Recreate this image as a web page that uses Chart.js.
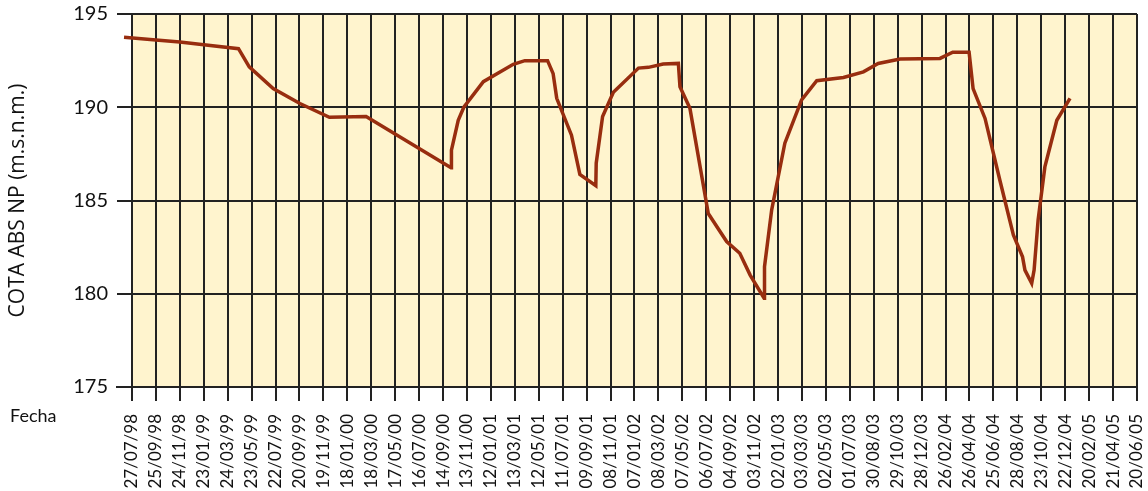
<!DOCTYPE html>
<html>
<head>
<meta charset="utf-8">
<script src="https://cdn.jsdelivr.net/npm/chart.js@4.4.1/dist/chart.umd.min.js"></script>
<style>
  html, body { margin:0; padding:0; background:#fff; }
  #wrap { width:1148px; height:491px; }
</style>
</head>
<body>
<div id="wrap"><canvas id="grafico"></canvas></div>
<script>
// etiquetas del eje X (cada 60 dias)
const tickLabels = [
  "27/07/98","25/09/98","24/11/98","23/01/99","24/03/99","23/05/99","22/07/99","20/09/99",
  "19/11/99","18/01/00","18/03/00","17/05/00","16/07/00","14/09/00","13/11/00","12/01/01",
  "13/03/01","12/05/01","11/07/01","09/09/01","08/11/01","07/01/02","08/03/02","07/05/02",
  "06/07/02","04/09/02","03/11/02","02/01/03","03/03/03","02/05/03","01/07/03","30/08/03",
  "29/10/03","28/12/03","26/02/04","26/04/04","25/06/04","28/08/04","23/10/04","22/12/04",
  "20/02/05","21/04/05","20/06/05"
];

// medidas
const fechas = [
  "07/07/98","25/09/98","24/11/98","23/01/99","20/04/99","17/05/99","16/07/99","21/09/99",
  "04/12/99","05/03/00","04/10/00","05/10/00","22/10/00","05/11/00","24/12/00","09/03/01",
  "07/04/01","03/06/01","17/06/01","26/06/01","02/08/01","23/08/01","02/10/01","03/10/01",
  "19/10/01","15/11/01","17/01/02","11/02/02","20/03/02","27/04/02","01/05/02","26/05/02",
  "11/07/02","26/08/02","28/09/02","24/10/02","28/11/02","29/11/02","17/12/02","19/01/03",
  "02/03/03","09/04/03","15/06/03","04/08/03","10/09/03","04/11/03","12/02/04","15/03/04",
  "25/04/04","05/05/04","04/06/04","11/07/04","14/08/04","06/09/04","12/09/04","29/09/04",
  "05/10/04","15/10/04","01/11/04","01/12/04","03/01/05"
];
const cotas = [
  193.75,193.6,193.5,193.35,193.14,192.17,191.0,190.2,
  189.46,189.5,186.75,187.7,189.3,190.0,191.37,192.3,
  192.5,192.5,191.8,190.48,188.5,186.4,185.8,187.0,
  189.5,190.8,192.1,192.14,192.32,192.35,191.1,189.94,
  184.3,182.8,182.17,181.0,179.76,181.45,184.5,188.07,
  190.4,191.42,191.6,191.9,192.35,192.59,192.62,192.95,
  192.95,191.0,189.4,186.1,183.15,181.98,181.27,180.56,
  181.27,183.95,186.8,189.3,190.48
];

const inicio = Date.UTC(1998, 6, 27);
function dias(f) {
  const [d, m, a] = f.split("/").map(Number);
  const anio = a < 50 ? 2000 + a : 1900 + a;
  return (Date.UTC(anio, m - 1, d) - inicio) / 86400000;
}
const puntos = fechas.map((f, i) => ({ x: dias(f), y: cotas[i] }));

const fondo = {
  id: "fondo",
  beforeDraw(chart) {
    const { ctx, chartArea, scales } = chart;
    const x0 = scales.x.getPixelForValue(0);
    ctx.save();
    ctx.fillStyle = "#FFF4CE";
    ctx.fillRect(x0, chartArea.top, chartArea.right - x0, chartArea.bottom - chartArea.top);
    ctx.restore();
  },
  afterDraw(chart) {
    const ctx = chart.ctx;
    ctx.save();
    ctx.fillStyle = "#111";
    ctx.font = "18px Lato";
    ctx.textBaseline = "middle";
    ctx.fillText("Fecha", 10, 416);
    ctx.restore();
  }
};

new Chart(document.getElementById("grafico"), {
  type: "line",
  data: {
    datasets: [{
      data: puntos,
      borderColor: "#982D0F",
      borderWidth: 3.5,
      pointRadius: 0,
      tension: 0,
      fill: false
    }]
  },
  options: {
    responsive: true,
    maintainAspectRatio: false,
    animation: false,
    layout: { padding: { top: 14, right: 11, left: 0, bottom: 0 } },
    plugins: { legend: { display: false }, tooltip: { enabled: false } },
    scales: {
      x: {
        type: "linear",
        min: -37.6,
        max: 2520,
        afterBuildTicks: s => { s.ticks = tickLabels.map((t, i) => ({ value: i * 60 })); },
        afterFit: s => { s.height = 104; s.paddingLeft = 0; s.paddingRight = 0; },
        grid: { color: "#222", lineWidth: 2, tickLength: 14 },
        border: { color: "#222", width: 2 },
        ticks: {
          autoSkip: false, minRotation: 90, maxRotation: 90, padding: 13,
          color: "#111", font: { family: "Lato", size: 17 },
          callback: v => tickLabels[Math.round(v / 60)]
        }
      },
      y: {
        min: 175,
        max: 195,
        afterFit: s => { s.width = 117; s.paddingTop = 0; s.paddingBottom = 0; },
        grid: { color: "#222", lineWidth: 2, drawTicks: false },
        border: { display: false },
        ticks: { stepSize: 5, padding: 9, color: "#111", font: { family: "Lato", size: 20 } },
        title: {
          display: true, text: "COTA ABS NP (m.s.n.m.)", color: "#111",
          font: { family: "Open Sans", size: 21 }, padding: { top: 5, bottom: 0 }
        }
      }
    }
  },
  plugins: [fondo]
});
</script>
</body>
</html>
